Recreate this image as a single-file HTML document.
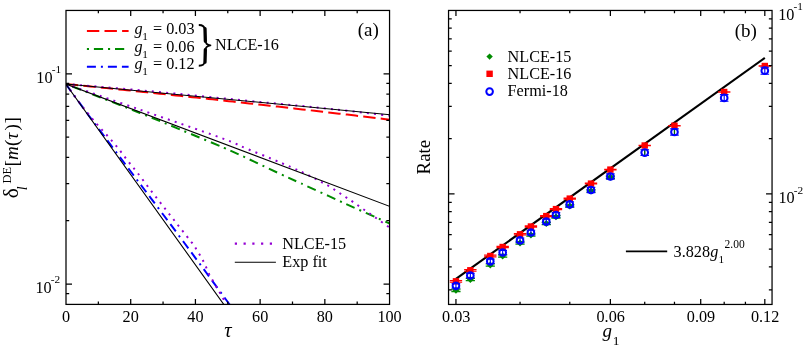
<!DOCTYPE html>
<html><head><meta charset="utf-8"><title>chart</title><style>html,body{margin:0;padding:0;background:#fff}svg{display:block;will-change:transform}</style></head><body><svg width="806" height="346" viewBox="0 0 806 346">
<rect width="806" height="346" fill="#fff"/>
<defs>
<clipPath id="ca"><rect x="66.0" y="10.45" width="323.55" height="293.95"/></clipPath>
</defs>
<g clip-path="url(#ca)" fill="none">
<polyline points="65.80,84.00 69.88,84.41 73.95,84.82 78.03,85.23 82.11,85.64 86.19,86.05 90.26,86.47 94.34,86.88 98.42,87.30 102.50,87.71 106.57,88.13 110.65,88.55 114.73,88.97 118.81,89.39 122.88,89.81 126.96,90.24 131.04,90.66 135.12,91.08 139.19,91.51 143.27,91.94 147.35,92.37 151.43,92.79 155.50,93.22 159.58,93.66 163.66,94.09 167.74,94.52 171.81,94.96 175.89,95.39 179.97,95.83 184.05,96.26 188.12,96.70 192.20,97.14 196.28,97.58 200.36,98.02 204.44,98.47 208.51,98.91 212.59,99.35 216.67,99.80 220.75,100.25 224.82,100.70 228.90,101.14 232.98,101.59 237.06,102.04 241.13,102.50 245.21,102.95 249.29,103.40 253.37,103.86 257.44,104.31 261.52,104.77 265.60,105.23 269.68,105.69 273.75,106.15 277.83,106.61 281.91,107.07 285.99,107.54 290.06,108.00 294.14,108.46 298.22,108.93 302.29,109.40 306.37,109.87 310.45,110.34 314.53,110.81 318.60,111.28 322.68,111.75 326.76,112.22 330.84,112.70 334.92,113.17 338.99,113.65 343.07,114.13 347.15,114.61 351.23,115.09 355.30,115.57 359.38,116.05 363.46,116.53 367.54,117.02 371.61,117.50 375.69,117.99 379.77,118.48 383.84,118.96 387.92,119.45 392.00,119.94" stroke="#ff0000" stroke-width="2" stroke-dasharray="12.4 5.2"/>
<path d="M65.80 84.00 C71.50 86.20 87.63 92.37 100.00 97.20 C112.37 102.03 126.67 107.63 140.00 113.00 C153.33 118.37 166.00 123.60 180.00 129.40 C194.00 135.20 213.48 143.30 224.00 147.80 C234.52 152.30 236.75 153.47 243.10 156.40 C249.45 159.33 255.75 162.40 262.10 165.40 C268.45 168.40 274.75 171.42 281.20 174.40 C287.65 177.38 290.17 178.45 300.80 183.30 C311.43 188.15 330.53 196.95 345.00 203.50 C359.47 210.05 379.77 219.08 387.60 222.60 C395.43 226.12 391.27 224.27 392.00 224.60" stroke="#008b00" stroke-width="2" stroke-dasharray="2 5.1 9.1 5.1"/>
<path d="M65.80 84.00 C68.95 88.33 79.07 102.33 84.70 110.00 C90.33 117.67 94.63 123.33 99.60 130.00 C104.57 136.67 109.50 143.33 114.50 150.00 C119.50 156.67 124.57 163.33 129.60 170.00 C134.63 176.67 139.05 182.50 144.70 190.00 C150.35 197.50 156.88 206.17 163.50 215.00 C170.12 223.83 177.35 233.50 184.40 243.00 C191.45 252.50 198.33 261.83 205.80 272.00 C213.27 282.17 224.32 297.33 229.20 304.00 C234.08 310.67 234.12 310.67 235.10 312.00" stroke="#0000ff" stroke-width="2" stroke-dasharray="9 5 2 5 9 5"/>
<path d="M65.80 84.00 C79.83 85.20 117.63 88.20 150.00 91.20 C182.37 94.20 230.00 99.05 260.00 102.00 C290.00 104.95 308.00 106.58 330.00 108.90 C352.00 111.22 381.67 114.73 392.00 115.90" stroke="#9400d3" stroke-width="2" stroke-dasharray="2 5.2"/>
<path d="M65.80 84.00 C78.17 88.28 114.30 100.78 140.00 109.70 C165.70 118.62 202.32 131.05 220.00 137.50 C237.68 143.95 237.40 144.80 246.10 148.40 C254.80 152.00 264.62 155.93 272.20 159.10 C279.78 162.27 286.17 165.02 291.60 167.40 C297.03 169.78 300.47 171.30 304.80 173.40 C309.13 175.50 313.48 177.82 317.60 180.00 C321.72 182.18 325.53 184.12 329.50 186.50 C333.47 188.88 337.50 191.73 341.40 194.30 C345.30 196.87 348.98 199.23 352.90 201.90 C356.82 204.57 360.98 207.58 364.90 210.30 C368.82 213.02 372.62 215.55 376.40 218.20 C380.18 220.85 385.00 224.35 387.60 226.20 C390.20 228.05 391.27 228.78 392.00 229.30" stroke="#9400d3" stroke-width="2" stroke-dasharray="2 5.2"/>
<path d="M65.80 84.00 C68.17 87.23 75.60 97.62 80.00 103.40 C84.40 109.18 88.62 114.38 92.20 118.70 C95.78 123.02 98.38 125.80 101.50 129.30 C104.62 132.80 107.83 136.17 110.90 139.70 C113.97 143.23 117.02 146.88 119.90 150.50 C122.78 154.12 125.30 157.72 128.20 161.40 C131.10 165.08 133.65 167.92 137.30 172.60 C140.95 177.28 145.75 183.83 150.10 189.50 C154.45 195.17 159.02 201.00 163.40 206.60 C167.78 212.20 172.07 217.60 176.40 223.10 C180.73 228.60 186.52 235.95 189.40 239.60 C192.28 243.25 192.40 243.13 193.70 245.00 C195.00 246.87 195.95 248.77 197.20 250.80 C198.45 252.83 200.02 255.12 201.20 257.20 C202.38 259.28 203.28 261.18 204.30 263.30 C205.32 265.42 206.30 267.72 207.30 269.90 C208.30 272.08 209.18 274.30 210.30 276.40 C211.42 278.50 212.82 280.47 214.00 282.50 C215.18 284.53 216.25 286.62 217.40 288.60 C218.55 290.58 219.78 292.45 220.90 294.40 C222.02 296.35 222.92 298.17 224.10 300.30 C225.28 302.43 227.35 306.05 228.00 307.20" stroke="#9400d3" stroke-width="2" stroke-dasharray="2 5.2"/>
<path d="M65.8 84 L390.2 114.7 M65.8 84 L390.2 206.6 M65.8 84 L235.80 321.22" stroke="#000" stroke-width="1.1"/>
</g>
<rect x="66.0" y="10.45" width="323.55" height="293.95" fill="none" stroke="#000" stroke-width="1.25"/>
<path d="M98.35 304.4 v-2.8 M98.35 10.45 v2.8 M130.71 304.4 v-5.5 M130.71 10.45 v5.5 M163.06 304.4 v-2.8 M163.06 10.45 v2.8 M195.42 304.4 v-5.5 M195.42 10.45 v5.5 M227.78 304.4 v-2.8 M227.78 10.45 v2.8 M260.13 304.4 v-5.5 M260.13 10.45 v5.5 M292.49 304.4 v-2.8 M292.49 10.45 v2.8 M324.84 304.4 v-5.5 M324.84 10.45 v5.5 M357.19 304.4 v-2.8 M357.19 10.45 v2.8 M66.0 293.64 h3.2 M389.55 293.64 h-3.2 M66.0 284.02 h6.0 M389.55 284.02 h-6.0 M66.0 220.72 h3.2 M389.55 220.72 h-3.2 M66.0 183.69 h3.2 M389.55 183.69 h-3.2 M66.0 157.42 h3.2 M389.55 157.42 h-3.2 M66.0 137.05 h3.2 M389.55 137.05 h-3.2 M66.0 120.40 h3.2 M389.55 120.40 h-3.2 M66.0 106.32 h3.2 M389.55 106.32 h-3.2 M66.0 94.12 h3.2 M389.55 94.12 h-3.2 M66.0 83.37 h3.2 M389.55 83.37 h-3.2 M66.0 73.75 h6.0 M389.55 73.75 h-6.0" stroke="#000" stroke-width="1.25" fill="none"/>
<text x="66.00" y="321.6" font-size="16.2" text-anchor="middle" font-family="Liberation Serif, serif">0</text>
<text x="130.71" y="321.6" font-size="16.2" text-anchor="middle" font-family="Liberation Serif, serif">20</text>
<text x="195.42" y="321.6" font-size="16.2" text-anchor="middle" font-family="Liberation Serif, serif">40</text>
<text x="260.13" y="321.6" font-size="16.2" text-anchor="middle" font-family="Liberation Serif, serif">60</text>
<text x="324.84" y="321.6" font-size="16.2" text-anchor="middle" font-family="Liberation Serif, serif">80</text>
<text x="389.55" y="321.6" font-size="16.2" text-anchor="middle" font-family="Liberation Serif, serif">100</text>
<text x="36.3" y="82.8" font-size="16.2" font-family="Liberation Serif, serif">10</text><text x="51.699999999999996" y="73.3" font-size="11.3" font-family="Liberation Serif, serif">-1</text>
<text x="35.4" y="292.8" font-size="16.2" font-family="Liberation Serif, serif">10</text><text x="50.8" y="283.3" font-size="11.3" font-family="Liberation Serif, serif">-2</text>
<text x="227.9" y="336.8" font-size="20.5" font-style="italic" text-anchor="middle" font-family="Liberation Serif, serif">τ</text>
<text x="357.8" y="36" font-size="19" font-family="Liberation Serif, serif">(a)</text>
<g transform="translate(18.3,197.6) rotate(-90)">
<text x="-0.6" y="0" font-size="21.5" font-family="Liberation Serif, serif">δ</text>
<text x="7.4" y="8.4" font-size="14" font-style="italic" font-family="Liberation Serif, serif">l</text>
<text x="14.2" y="-7.4" font-size="12.4" font-family="Liberation Serif, serif">DE</text>
<text x="31.2" y="0" font-size="19" font-family="Liberation Serif, serif">[</text>
<text x="37.6" y="0" font-size="19" font-style="italic" font-family="Liberation Serif, serif">m</text>
<text x="51.6" y="0" font-size="19" font-family="Liberation Serif, serif">(</text>
<text x="58.0" y="0" font-size="19" font-style="italic" font-family="Liberation Serif, serif">τ</text>
<text x="67.2" y="0" font-size="19" font-family="Liberation Serif, serif">)</text>
<text x="74.0" y="0" font-size="19" font-family="Liberation Serif, serif">]</text>
</g>
<g fill="none" stroke-width="2">
<path d="M86.9 31.1 H128.6" stroke="#ff0000" stroke-dasharray="12.4 5.2"/>
<path d="M86.9 49.0 H124.4" stroke="#008b00" stroke-dasharray="2.1 4.9 9.2 4.9"/>
<path d="M86.9 66.8 H128.6" stroke="#0000ff" stroke-dasharray="9 5 2 5 9 5"/>
</g>
<text x="134.4" y="33.9" font-size="16.2" font-style="italic" font-family="Liberation Serif, serif">g</text>
<text x="142.3" y="40.1" font-size="11.3" font-family="Liberation Serif, serif">1</text>
<text x="153.0" y="33.9" font-size="16.2" font-family="Liberation Serif, serif">= 0.03</text>
<text x="134.4" y="51.5" font-size="16.2" font-style="italic" font-family="Liberation Serif, serif">g</text>
<text x="142.3" y="57.7" font-size="11.3" font-family="Liberation Serif, serif">1</text>
<text x="153.0" y="51.5" font-size="16.2" font-family="Liberation Serif, serif">= 0.06</text>
<text x="134.4" y="69.0" font-size="16.2" font-style="italic" font-family="Liberation Serif, serif">g</text>
<text x="142.3" y="75.2" font-size="11.3" font-family="Liberation Serif, serif">1</text>
<text x="153.0" y="69.0" font-size="16.2" font-family="Liberation Serif, serif">= 0.12</text>
<path d="M198.8 25 C202.6 25 204.7 26.6 205 30 L205.2 40 C205.4 43 207 45 210.4 45.4 C207 45.8 205.4 47.8 205.2 50.8 L205 61 C204.7 64.2 202.6 65.7 198.8 65.7" fill="none" stroke="#000" stroke-width="1.9" stroke-linejoin="round"/>
<path d="M205.0 28.6 L205.35 41.2 M205.35 49.6 L205.0 62.2" fill="none" stroke="#000" stroke-width="3.3" stroke-linecap="round"/>
<text x="215" y="50.3" font-size="16.2" font-family="Liberation Serif, serif">NLCE-16</text>
<path d="M234.8 243.7 H272" stroke="#9400d3" stroke-width="2.2" stroke-dasharray="2.2 6.55" fill="none"/>
<path d="M234.8 262.3 H275.9" stroke="#000" stroke-width="1.1" fill="none"/>
<text x="282.3" y="248.5" font-size="16.2" font-family="Liberation Serif, serif">NLCE-15</text>
<text x="282.3" y="266.8" font-size="16.2" font-family="Liberation Serif, serif">Exp fit</text>
<path d="M455.95 278.89 L764.81 57.92" stroke="#000" stroke-width="2.1" fill="none"/>
<path d="M451.35 289.1 H460.55 M451.35 291.5 H460.55" stroke="#008b00" stroke-width="1.3"/>
<path d="M455.95 286.90000000000003 L459.35 290.3 L455.95 293.7 L452.55 290.3 Z" fill="#008b00"/>
<path d="M465.73 278.3 H474.93 M465.73 280.7 H474.93" stroke="#008b00" stroke-width="1.3"/>
<path d="M470.33 276.1 L473.73 279.5 L470.33 282.9 L466.93 279.5 Z" fill="#008b00"/>
<path d="M485.69 263.8 H494.89 M485.69 266.2 H494.89" stroke="#008b00" stroke-width="1.3"/>
<path d="M490.29 261.6 L493.69 265 L490.29 268.4 L486.89 265 Z" fill="#008b00"/>
<path d="M498.07 254.8 H507.27 M498.07 257.2 H507.27" stroke="#008b00" stroke-width="1.3"/>
<path d="M502.67 252.6 L506.07 256 L502.67 259.4 L499.27 256 Z" fill="#008b00"/>
<path d="M515.44 241.8 H524.64 M515.44 244.2 H524.64" stroke="#008b00" stroke-width="1.3"/>
<path d="M520.04 239.6 L523.44 243 L520.04 246.4 L516.64 243 Z" fill="#008b00"/>
<path d="M526.31 233.8 H535.51 M526.31 236.2 H535.51" stroke="#008b00" stroke-width="1.3"/>
<path d="M530.91 231.6 L534.31 235 L530.91 238.4 L527.51 235 Z" fill="#008b00"/>
<path d="M541.68 222.3 H550.88 M541.68 224.7 H550.88" stroke="#008b00" stroke-width="1.3"/>
<path d="M546.28 220.1 L549.68 223.5 L546.28 226.9 L542.88 223.5 Z" fill="#008b00"/>
<path d="M551.37 215.60000000000002 H560.57 M551.37 218.0 H560.57" stroke="#008b00" stroke-width="1.3"/>
<path d="M555.97 213.4 L559.37 216.8 L555.97 220.20000000000002 L552.57 216.8 Z" fill="#008b00"/>
<path d="M565.16 204.8 H574.36 M565.16 207.2 H574.36" stroke="#008b00" stroke-width="1.3"/>
<path d="M569.76 202.6 L573.16 206 L569.76 209.4 L566.36 206 Z" fill="#008b00"/>
<path d="M586.39 189.8 H595.59 M586.39 192.2 H595.59" stroke="#008b00" stroke-width="1.3"/>
<path d="M590.99 187.6 L594.39 191 L590.99 194.4 L587.59 191 Z" fill="#008b00"/>
<path d="M605.78 176.10000000000002 H614.98 M605.78 178.5 H614.98" stroke="#008b00" stroke-width="1.3"/>
<path d="M610.38 173.9 L613.78 177.3 L610.38 180.70000000000002 L606.98 177.3 Z" fill="#008b00"/>
<path d="M449.75 280.50 H462.15 M449.75 282.10 H462.15" stroke="#ff0000" stroke-width="1.2"/>
<rect x="452.75" y="278.10" width="6.4" height="6.4" fill="#ff0000"/>
<path d="M464.13 269.50 H476.53 M464.13 271.10 H476.53" stroke="#ff0000" stroke-width="1.2"/>
<rect x="467.13" y="267.10" width="6.4" height="6.4" fill="#ff0000"/>
<path d="M484.09 255.20 H496.49 M484.09 256.80 H496.49" stroke="#ff0000" stroke-width="1.2"/>
<rect x="487.09" y="252.80" width="6.4" height="6.4" fill="#ff0000"/>
<path d="M496.47 246.30 H508.87 M496.47 247.70 H508.87" stroke="#ff0000" stroke-width="1.2"/>
<rect x="499.47" y="243.80" width="6.4" height="6.4" fill="#ff0000"/>
<path d="M513.84 233.60 H526.24 M513.84 235.00 H526.24" stroke="#ff0000" stroke-width="1.2"/>
<rect x="516.84" y="231.10" width="6.4" height="6.4" fill="#ff0000"/>
<path d="M524.71 225.90 H537.11 M524.71 227.10 H537.11" stroke="#ff0000" stroke-width="1.2"/>
<rect x="527.71" y="223.30" width="6.4" height="6.4" fill="#ff0000"/>
<path d="M540.08 215.50 H552.48 M540.08 216.70 H552.48" stroke="#ff0000" stroke-width="1.2"/>
<rect x="543.08" y="212.90" width="6.4" height="6.4" fill="#ff0000"/>
<path d="M549.77 208.60 H562.17 M549.77 209.60 H562.17" stroke="#ff0000" stroke-width="1.2"/>
<rect x="552.77" y="205.90" width="6.4" height="6.4" fill="#ff0000"/>
<path d="M563.56 198.10 H575.96 M563.56 199.10 H575.96" stroke="#ff0000" stroke-width="1.2"/>
<rect x="566.56" y="195.40" width="6.4" height="6.4" fill="#ff0000"/>
<path d="M584.79 183.20 H597.19 M584.79 184.00 H597.19" stroke="#ff0000" stroke-width="1.2"/>
<rect x="587.79" y="180.40" width="6.4" height="6.4" fill="#ff0000"/>
<path d="M604.18 169.30 H616.58 M604.18 169.90 H616.58" stroke="#ff0000" stroke-width="1.2"/>
<rect x="607.18" y="166.40" width="6.4" height="6.4" fill="#ff0000"/>
<path d="M638.52 145.30 H650.92 M638.52 145.70 H650.92" stroke="#ff0000" stroke-width="1.2"/>
<rect x="641.52" y="142.30" width="6.4" height="6.4" fill="#ff0000"/>
<path d="M668.27 125.60 H680.67 M668.27 125.80 H680.67" stroke="#ff0000" stroke-width="1.2"/>
<rect x="671.27" y="122.50" width="6.4" height="6.4" fill="#ff0000"/>
<path d="M717.99 91.90 H730.39 M717.99 92.10 H730.39" stroke="#ff0000" stroke-width="1.2"/>
<rect x="720.99" y="88.80" width="6.4" height="6.4" fill="#ff0000"/>
<path d="M758.61 65.90 H771.01 M758.61 66.10 H771.01" stroke="#ff0000" stroke-width="1.2"/>
<rect x="761.61" y="62.80" width="6.4" height="6.4" fill="#ff0000"/>
<path d="M451.65 283.60 H460.25 M451.65 288.00 H460.25 M455.95 283.60 V288.00" stroke="#0000ff" stroke-width="1.15"/>
<circle cx="455.95" cy="285.80" r="3.35" fill="none" stroke="#0000ff" stroke-width="2"/>
<path d="M466.03 273.30 H474.63 M466.03 277.70 H474.63 M470.33 273.30 V277.70" stroke="#0000ff" stroke-width="1.15"/>
<circle cx="470.33" cy="275.50" r="3.35" fill="none" stroke="#0000ff" stroke-width="2"/>
<path d="M485.99 259.10 H494.59 M485.99 263.50 H494.59 M490.29 259.10 V263.50" stroke="#0000ff" stroke-width="1.15"/>
<circle cx="490.29" cy="261.30" r="3.35" fill="none" stroke="#0000ff" stroke-width="2"/>
<path d="M498.37 250.30 H506.97 M498.37 254.70 H506.97 M502.67 250.30 V254.70" stroke="#0000ff" stroke-width="1.15"/>
<circle cx="502.67" cy="252.50" r="3.35" fill="none" stroke="#0000ff" stroke-width="2"/>
<path d="M515.74 238.00 H524.34 M515.74 242.60 H524.34 M520.04 238.00 V242.60" stroke="#0000ff" stroke-width="1.15"/>
<circle cx="520.04" cy="240.30" r="3.35" fill="none" stroke="#0000ff" stroke-width="2"/>
<path d="M526.61 230.20 H535.21 M526.61 234.80 H535.21 M530.91 230.20 V234.80" stroke="#0000ff" stroke-width="1.15"/>
<circle cx="530.91" cy="232.50" r="3.35" fill="none" stroke="#0000ff" stroke-width="2"/>
<path d="M541.98 219.20 H550.58 M541.98 224.00 H550.58 M546.28 219.20 V224.00" stroke="#0000ff" stroke-width="1.15"/>
<circle cx="546.28" cy="221.60" r="3.35" fill="none" stroke="#0000ff" stroke-width="2"/>
<path d="M551.67 212.60 H560.27 M551.67 217.40 H560.27 M555.97 212.60 V217.40" stroke="#0000ff" stroke-width="1.15"/>
<circle cx="555.97" cy="215.00" r="3.35" fill="none" stroke="#0000ff" stroke-width="2"/>
<path d="M565.46 201.90 H574.06 M565.46 206.90 H574.06 M569.76 201.90 V206.90" stroke="#0000ff" stroke-width="1.15"/>
<circle cx="569.76" cy="204.40" r="3.35" fill="none" stroke="#0000ff" stroke-width="2"/>
<path d="M586.69 187.40 H595.29 M586.69 192.60 H595.29 M590.99 187.40 V192.60" stroke="#0000ff" stroke-width="1.15"/>
<circle cx="590.99" cy="190.00" r="3.35" fill="none" stroke="#0000ff" stroke-width="2"/>
<path d="M606.08 173.80 H614.68 M606.08 179.20 H614.68 M610.38 173.80 V179.20" stroke="#0000ff" stroke-width="1.15"/>
<circle cx="610.38" cy="176.50" r="3.35" fill="none" stroke="#0000ff" stroke-width="2"/>
<path d="M640.42 149.70 H649.02 M640.42 155.50 H649.02 M644.72 149.70 V155.50" stroke="#0000ff" stroke-width="1.15"/>
<circle cx="644.72" cy="152.60" r="3.35" fill="none" stroke="#0000ff" stroke-width="2"/>
<path d="M644.72 150.40 V154.80" stroke="#006a00" stroke-width="1.2"/>
<path d="M670.17 128.90 H678.77 M670.17 135.10 H678.77 M674.47 128.90 V135.10" stroke="#0000ff" stroke-width="1.15"/>
<circle cx="674.47" cy="132.00" r="3.35" fill="none" stroke="#0000ff" stroke-width="2"/>
<path d="M674.47 129.80 V134.20" stroke="#006a00" stroke-width="1.2"/>
<path d="M719.89 94.60 H728.49 M719.89 101.20 H728.49 M724.19 94.60 V101.20" stroke="#0000ff" stroke-width="1.15"/>
<circle cx="724.19" cy="97.90" r="3.35" fill="none" stroke="#0000ff" stroke-width="2"/>
<path d="M760.51 67.20 H769.11 M760.51 74.20 H769.11 M764.81 67.20 V74.20" stroke="#0000ff" stroke-width="1.15"/>
<circle cx="764.81" cy="70.70" r="3.35" fill="none" stroke="#0000ff" stroke-width="2"/>
<rect x="448.55" y="10.45" width="323.50" height="294.00" fill="none" stroke="#000" stroke-width="1.25"/>
<path d="M455.95 304.45 v-5.5 M455.95 10.45 v5.5 M520.04 304.45 v-2.8 M520.04 10.45 v2.8 M569.76 304.45 v-2.8 M569.76 10.45 v2.8 M610.38 304.45 v-5.5 M610.38 10.45 v5.5 M644.72 304.45 v-2.8 M644.72 10.45 v2.8 M674.47 304.45 v-2.8 M674.47 10.45 v2.8 M700.71 304.45 v-5.5 M700.71 10.45 v5.5 M724.19 304.45 v-2.8 M724.19 10.45 v2.8 M745.42 304.45 v-2.8 M745.42 10.45 v2.8 M764.81 304.45 v-5.5 M764.81 10.45 v5.5 M448.55 289.91 h3.2 M772.05 289.91 h-3.2 M448.55 266.99 h3.2 M772.05 266.99 h-3.2 M448.55 249.20 h3.2 M772.05 249.20 h-3.2 M448.55 234.67 h3.2 M772.05 234.67 h-3.2 M448.55 222.39 h3.2 M772.05 222.39 h-3.2 M448.55 211.74 h3.2 M772.05 211.74 h-3.2 M448.55 202.36 h3.2 M772.05 202.36 h-3.2 M448.55 193.96 h6.0 M772.05 193.96 h-6.0 M448.55 138.72 h3.2 M772.05 138.72 h-3.2 M448.55 106.40 h3.2 M772.05 106.40 h-3.2 M448.55 83.48 h3.2 M772.05 83.48 h-3.2 M448.55 65.69 h3.2 M772.05 65.69 h-3.2 M448.55 51.16 h3.2 M772.05 51.16 h-3.2 M448.55 38.88 h3.2 M772.05 38.88 h-3.2 M448.55 28.23 h3.2 M772.05 28.23 h-3.2 M448.55 18.85 h3.2 M772.05 18.85 h-3.2" stroke="#000" stroke-width="1.25" fill="none"/>
<text x="456.25" y="322" font-size="16.2" text-anchor="middle" font-family="Liberation Serif, serif">0.03</text>
<text x="610.68" y="322" font-size="16.2" text-anchor="middle" font-family="Liberation Serif, serif">0.06</text>
<text x="701.01" y="322" font-size="16.2" text-anchor="middle" font-family="Liberation Serif, serif">0.09</text>
<text x="765.11" y="322" font-size="16.2" text-anchor="middle" font-family="Liberation Serif, serif">0.12</text>
<text x="778.2" y="19.6" font-size="16.2" font-family="Liberation Serif, serif">10</text><text x="793.6" y="10.100000000000001" font-size="11.3" font-family="Liberation Serif, serif">-1</text>
<text x="778.4" y="203" font-size="16.2" font-family="Liberation Serif, serif">10</text><text x="793.8" y="193.5" font-size="11.3" font-family="Liberation Serif, serif">-2</text>
<text x="602.6" y="336.8" font-size="19" font-style="italic" font-family="Liberation Serif, serif">g</text>
<text x="612.8" y="344.6" font-size="13.5" font-family="Liberation Serif, serif">1</text>
<text x="734.8" y="37" font-size="19" font-family="Liberation Serif, serif">(b)</text>
<text transform="translate(429.7,174.4) rotate(-90)" font-size="18.8" font-family="Liberation Serif, serif">Rate</text>
<path d="M489.6 53.4 L492.8 56.6 L489.6 59.800000000000004 L486.40000000000003 56.6 Z" fill="#008b00"/>
<rect x="486.40000000000003" y="70.6" width="6.4" height="6.4" fill="#ff0000"/>
<circle cx="489.6" cy="91.6" r="3.3" fill="none" stroke="#0000ff" stroke-width="2"/>
<text x="507.6" y="62.1" font-size="16.2" font-family="Liberation Serif, serif">NLCE-15</text>
<text x="507.6" y="79.3" font-size="16.2" font-family="Liberation Serif, serif">NLCE-16</text>
<text x="507.6" y="96.4" font-size="16.2" font-family="Liberation Serif, serif">Fermi-18</text>
<path d="M625.9 251.4 H667.2" stroke="#000" stroke-width="1.9"/>
<text x="673.6" y="257.2" font-size="16.2" font-family="Liberation Serif, serif">3.828</text>
<text x="710.3" y="257.2" font-size="16.2" font-style="italic" font-family="Liberation Serif, serif">g</text>
<text x="718.4" y="263.4" font-size="11.3" font-family="Liberation Serif, serif">1</text>
<text x="724.6" y="247.8" font-size="11.5" font-family="Liberation Serif, serif">2.00</text>
</svg></body></html>
